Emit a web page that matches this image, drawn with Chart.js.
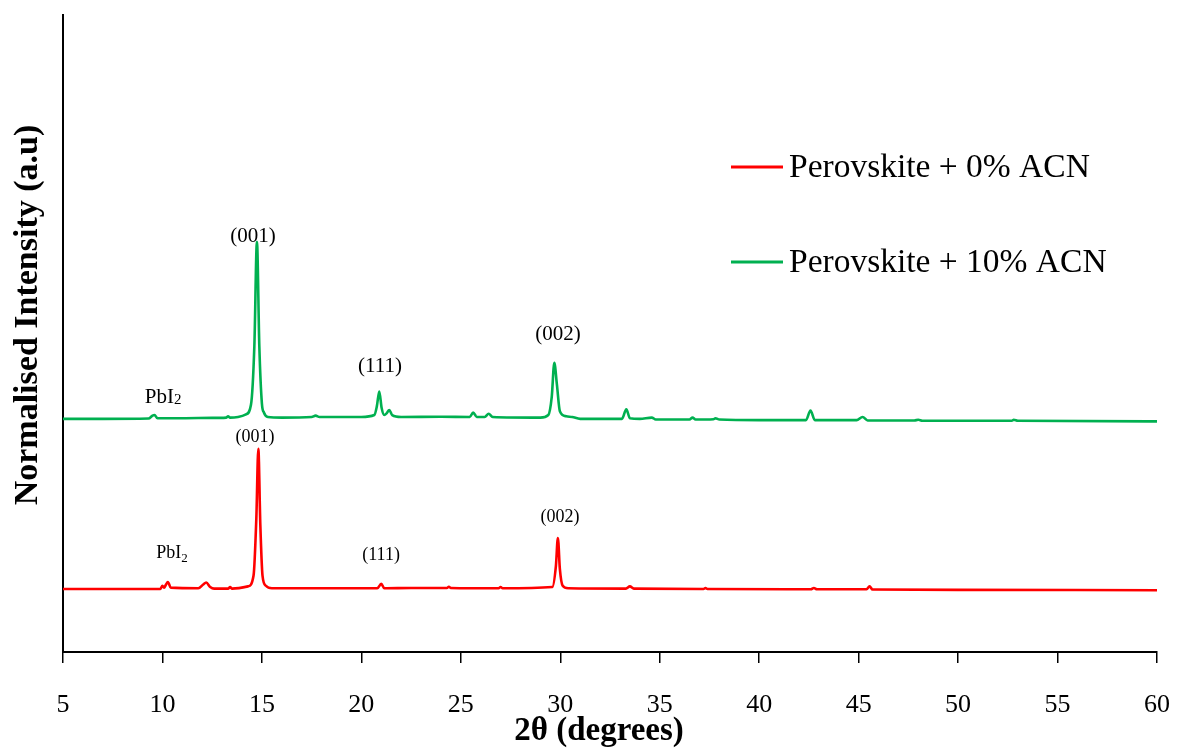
<!DOCTYPE html>
<html><head><meta charset="utf-8">
<script src="https://cdn.jsdelivr.net/npm/chart.js@4.4.0/dist/chart.umd.min.js"></script>
<style>html,body{margin:0;padding:0;background:#fff;} #wrap{width:1177px;height:749px;}</style>
</head><body><div id="wrap"><canvas id="c" width="1177" height="749"></canvas></div>
<script>
// ---------- data ----------
const seriesNames = ['Perovskite + 0% ACN', 'Perovskite + 10% ACN'];

const redX = [5, 9.9, 10.0, 10.08, 10.18, 10.27, 10.42, 11.8, 12.05, 12.2, 12.4, 12.6, 13.3, 13.4, 13.5,
  14.3, 14.58, 14.72, 14.82, 14.92, 15.03, 15.2, 15.5, 20.8, 21.0, 21.15, 22.5, 24.3, 24.4, 24.5, 26.9, 27.0, 27.1,
  29.6, 29.78, 29.88, 29.98, 30.12, 30.4, 33.3, 33.5, 33.7, 37.2, 37.3, 37.4, 42.6, 42.75, 42.9, 45.4, 45.55, 45.7, 50, 60];
const redY = [9.9, 9.9, 10.4, 10.1, 10.6, 11.0, 10.1, 10.0, 10.6, 10.9, 10.2, 9.95, 9.95, 10.2, 9.95,
  10.3, 12.0, 21.0, 31.9, 20.0, 12.0, 10.4, 10.0, 10.0, 10.7, 10.0, 10.05, 10.05, 10.25, 10.05, 10.0, 10.2, 10.0,
  10.2, 13.5, 17.9, 13.0, 10.4, 10.0, 9.95, 10.3, 9.95, 9.9, 10.05, 9.9, 9.85, 10.05, 9.85, 9.85, 10.3, 9.8, 9.75, 9.7];

const greenX = [5, 7, 9.3, 9.5, 9.6, 9.75, 11, 12.5, 13.2, 13.3, 13.4, 13.8, 14.2, 14.45, 14.62, 14.75, 14.87, 15.0, 15.1, 15.3, 16,
  17.5, 17.7, 17.9, 20, 20.65, 20.78, 20.9, 21.02, 21.15, 21.28, 21.4, 21.55, 22, 24, 25.45, 25.62, 25.8, 26.2, 26.4, 26.6,
  29.0, 29.4, 29.57, 29.7, 29.83, 29.98, 30.3, 30.6, 31, 33.1, 33.32, 33.5, 34, 34.6, 34.8, 36.5, 36.65, 36.8, 37.7, 37.8, 38,
  40, 42.35, 42.58, 42.8, 44.9, 45.2, 45.45, 47.8, 48, 48.2, 52.7, 52.8, 53, 60];
const greenY = [36.6, 36.6, 36.65, 37.1, 37.2, 36.7, 36.7, 36.75, 36.8, 37.0, 36.8, 36.9, 37.3, 38.8, 48.0, 64.4, 48.0, 39.0, 37.6, 36.9, 36.8,
  36.9, 37.1, 36.9, 36.9, 37.2, 38.6, 40.9, 38.3, 37.2, 37.5, 38.0, 37.2, 36.9, 36.92, 36.9, 37.6, 36.9, 36.9, 37.4, 36.9,
  36.8, 37.2, 40.0, 45.4, 42.0, 37.8, 37.0, 36.9, 36.6, 36.6, 38.1, 36.7, 36.6, 36.8, 36.5, 36.5, 36.8, 36.5, 36.55, 36.7, 36.5,
  36.4, 36.4, 37.9, 36.4, 36.4, 36.9, 36.35, 36.35, 36.45, 36.3, 36.3, 36.45, 36.3, 36.2];

const xTickValues = [5, 10, 15, 20, 25, 30, 35, 40, 45, 50, 55, 60];
const xAxisTitle = '2θ (degrees)';
const yAxisTitle = 'Normalised Intensity (a.u)';

// peak labels (series index: 0 = red, 1 = green)
const annotationText   = ['PbI|2', '(001)', '(111)', '(002)', 'PbI|2', '(001)', '(111)', '(002)'];
const annotationX      = [10.03, 14.55, 20.94, 29.89, 10.48, 14.65, 20.99, 29.99];
const annotationY      = [40.0, 65.3, 44.8, 49.8, 15.5, 33.75, 15.2, 21.2];
const annotationSeries = [1, 1, 1, 1, 0, 0, 0, 0];

// ---------- styles ----------
const colors = ['#FF0000', '#00B050'];
const SERIF = '"Liberation Serif", "Times New Roman", serif';
const labelFontSize = [18, 21];

function toPoints(xs, ys) { return xs.map((x, i) => ({ x: x, y: ys[i] })); }

const overlay = {
  id: 'overlay',
  afterDraw(chart) {
    const ctx = chart.ctx, xs = chart.scales.x, ys = chart.scales.y;
    ctx.save();
    ctx.fillStyle = '#000';
    // peak labels
    annotationText.forEach((t, i) => {
      const s = annotationSeries[i];
      const fs = labelFontSize[s];
      const px = xs.getPixelForValue(annotationX[i]);
      const py = ys.getPixelForValue(annotationY[i]);
      ctx.textBaseline = 'middle';
      if (t.indexOf('|') >= 0) {
        const [main, sub] = t.split('|');
        ctx.font = fs + 'px ' + SERIF;
        const w1 = ctx.measureText(main).width;
        ctx.font = Math.round(fs * 0.72) + 'px ' + SERIF;
        const w2 = ctx.measureText(sub).width;
        const left = px - (w1 + w2) / 2;
        ctx.textAlign = 'left';
        ctx.font = fs + 'px ' + SERIF;
        ctx.fillText(main, left, py);
        ctx.font = Math.round(fs * 0.72) + 'px ' + SERIF;
        ctx.fillText(sub, left + w1, py + (s === 0 ? fs * 0.3 : fs * 0.12));
      } else {
        ctx.textAlign = 'center';
        ctx.font = fs + 'px ' + SERIF;
        ctx.fillText(t, px, py);
      }
    });
    // legend
    const legendY = [167, 262];
    seriesNames.forEach((n, i) => {
      ctx.strokeStyle = colors[i];
      ctx.lineWidth = 3;
      ctx.beginPath();
      ctx.moveTo(731, legendY[i]);
      ctx.lineTo(783, legendY[i]);
      ctx.stroke();
      ctx.font = '33.5px ' + SERIF;
      ctx.textAlign = 'left';
      ctx.textBaseline = 'middle';
      ctx.fillStyle = '#000';
      ctx.fillText(n, 789, legendY[i] + 1);
    });
    // axis titles
    ctx.font = 'bold 33px ' + SERIF;
    ctx.textAlign = 'center';
    ctx.textBaseline = 'middle';
    ctx.fillText(xAxisTitle, 599, 731);
    ctx.save();
    ctx.translate(28, 315);
    ctx.rotate(-Math.PI / 2);
    ctx.font = 'bold 34px ' + SERIF;
    ctx.fillText(yAxisTitle, 0, 0);
    ctx.restore();
    ctx.restore();
  }
};

new Chart(document.getElementById('c'), {
  type: 'line',
  data: {
    datasets: [
      { label: seriesNames[0], data: toPoints(redX, redY), borderColor: colors[0], borderWidth: 2.6,
        pointRadius: 0, cubicInterpolationMode: 'monotone', fill: false },
      { label: seriesNames[1], data: toPoints(greenX, greenY), borderColor: colors[1], borderWidth: 2.6,
        pointRadius: 0, cubicInterpolationMode: 'monotone', fill: false }
    ]
  },
  options: {
    responsive: false,
    animation: false,
    devicePixelRatio: 1,
    layout: { padding: { left: 63, top: 15, right: 20, bottom: 0 } },
    plugins: { legend: { display: false }, tooltip: { enabled: false } },
    scales: {
      x: {
        type: 'linear', min: 5, max: 60,
        afterBuildTicks: (ax) => { ax.ticks = xTickValues.map(v => ({ value: v })); },
        afterFit: (ax) => { ax.height = 97; ax.paddingLeft = 0; ax.paddingRight = 0; },
        grid: { drawOnChartArea: false, drawTicks: true, tickLength: 11, color: '#000', lineWidth: 1.5 },
        border: { display: true, color: '#000', width: 2 },
        ticks: { color: '#000', font: { family: SERIF, size: 26 }, padding: 27, maxRotation: 0, autoSkip: false }
      },
      y: {
        min: 0, max: 100,
        afterFit: (ax) => { ax.width = 0; ax.paddingTop = 0; ax.paddingBottom = 0; },
        grid: { display: true, drawOnChartArea: false, drawTicks: false },
        border: { display: true, color: '#000', width: 2 },
        ticks: { display: false }
      }
    }
  },
  plugins: [overlay]
});
</script>
</body></html>
